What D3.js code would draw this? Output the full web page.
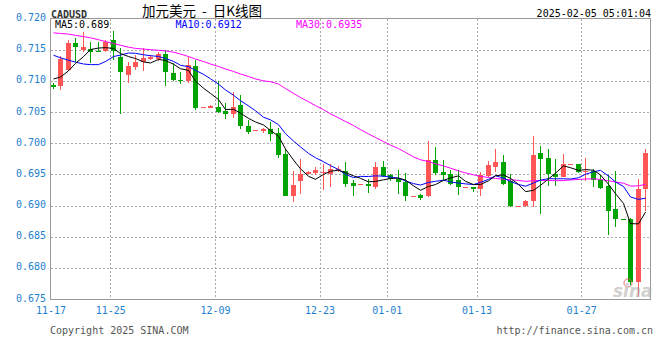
<!DOCTYPE html>
<html><head><meta charset="utf-8">
<script src="https://cdn.jsdelivr.net/npm/d3@7"></script>
<style>body{margin:0;background:#fff}svg{display:block}</style>
</head><body>
<script>
const dates = ["11-17","11-18","11-19","11-20","11-21","11-22","11-23","11-24","11-25","11-26","11-27","11-28","11-29","11-30",
"12-01","12-02","12-03","12-04","12-05","12-06","12-07","12-08","12-09","12-10","12-11","12-12","12-13","12-14","12-15","12-16",
"12-17","12-18","12-19","12-20","12-21","12-22","12-23","12-24","12-25","12-26","12-27","12-28","12-29","12-30","12-31",
"01-01","01-02","01-03","01-04","01-05","01-06","01-07","01-08","01-09","01-10","01-11","01-12","01-13","01-14","01-15",
"01-16","01-17","01-18","01-19","01-20","01-21","01-22","01-23","01-24","01-25","01-26","01-27","01-28","01-29","01-30",
"01-31","02-01","02-02","02-03","02-04"];
const openP = [0.7093,0.7092,0.7118,0.7160,0.7150,0.7151,0.7148,0.7148,0.7165,0.7138,0.7110,0.7122,0.7131,0.7135,
0.7135,0.7143,0.7112,0.7102,0.7100,0.7124,0.7057,0.7057,0.7058,0.7052,0.7047,0.7061,0.7027,0.7020,0.7019,0.7022,
0.7017,0.6982,0.6915,0.6939,0.6951,0.6952,0.6953,0.6951,0.6957,0.6955,0.6936,0.6933,0.6934,0.6930,0.6962,
0.6949,0.6943,0.6938,0.6915,0.6917,0.6915,0.6973,0.6954,0.6950,0.6941,0.6928,0.6930,0.6927,0.6948,0.6962,
0.6970,0.6939,0.6899,0.6899,0.6907,0.6985,0.6977,0.6950,0.6946,0.6965,0.6966,0.6954,0.6955,0.6941,0.6931,
0.6895,0.6879,0.6878,0.6778,0.6927];
const highP = [0.7097,0.7140,0.7166,0.7169,0.7178,0.7162,0.7162,0.7166,0.7180,0.7152,0.7130,0.7142,0.7152,0.7141,
0.7147,0.7150,0.7128,0.7114,0.7138,0.7133,0.7058,0.7062,0.7100,0.7064,0.7082,0.7077,0.7037,0.7021,0.7025,0.7034,
0.7025,0.6991,0.6955,0.6975,0.6955,0.6961,0.6967,0.6967,0.6964,0.6969,0.6941,0.6934,0.6943,0.6970,0.6972,
0.6950,0.6957,0.6952,0.6916,0.6918,0.7003,0.6994,0.6973,0.6957,0.6957,0.6930,0.6930,0.6953,0.6971,0.6990,
0.6981,0.6951,0.6900,0.6909,0.7011,0.6996,0.6990,0.6975,0.6983,0.6966,0.6966,0.6977,0.6959,0.6949,0.6949,
0.6955,0.6879,0.6880,0.6942,0.6990];
const lowP = [0.7087,0.7086,0.7116,0.7131,0.7147,0.7128,0.7146,0.7146,0.7133,0.7047,0.7097,0.7117,0.7116,0.7133,
0.7132,0.7091,0.7099,0.7095,0.7097,0.7054,0.7057,0.7056,0.7049,0.7038,0.7040,0.7023,0.7014,0.7020,0.7017,0.7003,
0.6976,0.6915,0.6906,0.6919,0.6950,0.6949,0.6925,0.6930,0.6954,0.6929,0.6915,0.6933,0.6920,0.6927,0.6946,
0.6940,0.6919,0.6908,0.6915,0.6909,0.6913,0.6949,0.6941,0.6933,0.6917,0.6928,0.6922,0.6915,0.6946,0.6954,
0.6933,0.6898,0.6899,0.6898,0.6897,0.6886,0.6931,0.6931,0.6946,0.6965,0.6952,0.6940,0.6929,0.6926,0.6853,
0.6866,0.6878,0.6772,0.6754,0.6891];
const closeP = [0.7090,0.7135,0.7160,0.7154,0.7155,0.7147,0.7147,0.7163,0.7148,0.7114,0.7123,0.7131,0.7136,0.7139,
0.7143,0.7114,0.7102,0.7099,0.7126,0.7056,0.7058,0.7060,0.7050,0.7046,0.7058,0.7027,0.7018,0.7021,0.7022,0.7014,
0.6981,0.6915,0.6933,0.6951,0.6954,0.6957,0.6954,0.6959,0.6959,0.6935,0.6931,0.6934,0.6931,0.6962,0.6948,
0.6942,0.6937,0.6915,0.6916,0.6912,0.6973,0.6952,0.6949,0.6935,0.6929,0.6929,0.6926,0.6949,0.6965,0.6970,
0.6935,0.6899,0.6900,0.6907,0.6981,0.6975,0.6950,0.6946,0.6966,0.6966,0.6954,0.6956,0.6941,0.6928,0.6891,
0.6879,0.6878,0.6778,0.6927,0.6985];
const ma5Lead = [0.7103,0.7106,0.7116,0.7128];
const ma10Lead = [0.7141,0.7137,0.7133,0.7130,0.7127,0.7126,0.7126,0.7131,0.7139];
const ma30Lead = [0.7177,0.7176,0.7175,0.7173,0.7171,0.7169,0.7166,0.7163,0.7160,0.7157,0.7154,0.7152,0.7151,0.7150,
0.7149,0.7148,0.7146,0.7143,0.7139,0.7135,0.7131,0.7127,0.7123,0.7119,0.7115,0.7111,0.7107,0.7103,0.7100];
const yTicks = [0.720,0.715,0.710,0.705,0.700,0.695,0.690,0.685,0.680,0.675];
const xTickLabels = ["11-17","11-25","12-09","12-23","01-01","01-13","01-27"];
const legendLabels = ["MA5:0.689","MA10:0.6912","MA30:0.6935"];
const symbol = "CADUSD";
const title = "加元美元 - 日K线图";
const stamp = "2025-02-05 05:01:04";
const copyright = "Copyright 2025 SINA.COM";
const site = "http://finance.sina.com.cn";

const W = 660, H = 360;
const L = 50.5, R = 650, T = 18.5, B = 299;
const mono = "'DejaVu Sans Mono', monospace";
const RED = "#ff5555", GREEN = "#00a400", BLUE_TXT = "#1f7fd0";

const svg = d3.select("body").append("svg").attr("width", W).attr("height", H);

const n = closeP.length;
const x = d3.scaleBand().domain(d3.range(n)).range([L - 0.5, R]).padding(0);
const y = d3.scaleLinear().domain([0.675, 0.720]).range([B, T]);
const parseD = s => { const [m, d] = s.split("-").map(Number); return new Date(m >= 10 ? 2024 : 2025, m - 1, d); };
const t = d3.scaleTime().domain([parseD(dates[0]), new Date(2025, 1, 5, 5, 1, 4)]).range([L, R]);
const tickDates = xTickLabels.map(parseD);

// grid
const grid = svg.append("g").attr("stroke", "#aaaaaa").attr("stroke-dasharray", "2,2").attr("shape-rendering", "crispEdges");
grid.selectAll(".hg").data(yTicks.filter(v => v < 0.7199 && v > 0.6751)).join("line")
  .attr("x1", L).attr("x2", R).attr("y1", d => Math.round(y(d)) + 0.5).attr("y2", d => Math.round(y(d)) + 0.5);
grid.selectAll(".vg").data(tickDates.slice(1)).join("line")
  .attr("x1", d => Math.round(t(d)) + 0.5).attr("x2", d => Math.round(t(d)) + 0.5).attr("y1", T).attr("y2", B);

// candles
const cx = i => Math.round(x(i) + x.bandwidth() / 2) - 0.5;
const bw = 5;
const candles = svg.append("g").attr("shape-rendering", "crispEdges");
const idx = d3.range(n);
const col = i => closeP[i] >= openP[i] ? RED : GREEN;
candles.selectAll(".wick").data(idx).join("line")
  .attr("x1", cx).attr("x2", cx)
  .attr("y1", i => y(highP[i])).attr("y2", i => y(lowP[i]))
  .attr("stroke", col).attr("stroke-width", 1);
candles.selectAll(".body").data(idx).join("rect")
  .attr("x", i => cx(i) - bw / 2)
  .attr("width", bw)
  .attr("y", i => y(Math.max(openP[i], closeP[i])))
  .attr("height", i => Math.max(1, Math.abs(y(openP[i]) - y(closeP[i]))))
  .attr("fill", col);

// moving averages
function movingAvg(win, lead) {
  return idx.map(i => i < win - 1 ? lead[i] : d3.mean(closeP.slice(i - win + 1, i + 1)));
}
const maSets = [[movingAvg(30, ma30Lead), "#ff00ff"], [movingAvg(10, ma10Lead), "#0000ff"], [movingAvg(5, ma5Lead), "#000000"]];
maSets.forEach(([vals, c]) => {
  svg.append("path")
    .attr("d", d3.line().x((v, i) => cx(i)).y(v => y(v))(vals))
    .attr("fill", "none").attr("stroke", c).attr("stroke-width", 1);
});

// frame
svg.append("rect").attr("x", L).attr("y", T).attr("width", R - L).attr("height", B - T)
  .attr("fill", "none").attr("stroke", "#999").attr("shape-rendering", "crispEdges");

// axes
const ya = svg.append("g").attr("transform", `translate(${L},0)`)
  .call(d3.axisLeft(y).tickValues(yTicks).tickFormat(d3.format(".3f")).tickSize(0).tickPadding(4.5));
ya.select(".domain").remove();
ya.selectAll("text").attr("fill", BLUE_TXT).attr("font-family", mono).attr("font-size", 10).attr("dy", "0.2em");

const xa = svg.append("g").attr("transform", `translate(0,${B})`)
  .call(d3.axisBottom(t).tickValues(tickDates).tickFormat(d3.timeFormat("%m-%d")).tickSize(0).tickPadding(8));
xa.select(".domain").remove();
xa.selectAll("text").attr("fill", BLUE_TXT).attr("font-family", mono).attr("font-size", 10);

// legend
const legendX = [55, 175.5, 296];
const legendC = ["#000000", "#0000ff", "#ff00ff"];
svg.selectAll(".lg").data(legendLabels).join("text")
  .attr("x", (d, i) => legendX[i]).attr("y", 28)
  .attr("font-family", mono).attr("font-size", 10).attr("fill", (d, i) => legendC[i]).text(d => d);

// header
svg.append("text").attr("x", 51).attr("y", 17.5).attr("font-family", mono).attr("font-size", 10)
  .attr("font-weight", "bold").attr("fill", "#333").text(symbol);
svg.append("text").attr("x", 202).attr("y", 15.5).attr("text-anchor", "middle")
  .attr("font-family", "'Noto Sans CJK SC', sans-serif").attr("font-size", 13.5).attr("fill", "#000")
  .attr("xml:space", "preserve").text("加元美元  -  日K线图");
svg.append("text").attr("x", 651).attr("y", 17).attr("text-anchor", "end").attr("font-family", mono)
  .attr("font-size", 10).attr("fill", "#000").text(stamp);

// footer
svg.append("text").attr("x", 50).attr("y", 334).attr("font-family", mono).attr("font-size", 10)
  .attr("fill", "#555").text(copyright);
svg.append("text").attr("x", 653).attr("y", 334).attr("text-anchor", "end").attr("font-family", mono)
  .attr("font-size", 10).attr("fill", "#555").text(site);

// watermark
const wm = svg.append("g").attr("opacity", 0.55);
wm.append("circle").attr("cx", 628).attr("cy", 283).attr("r", 4).attr("fill", "none").attr("stroke", "#e06060").attr("stroke-width", 1.5);
wm.append("text").attr("x", 613).attr("y", 297).attr("font-family", "'DejaVu Sans', sans-serif")
  .attr("font-size", 17).attr("font-weight", "bold").attr("font-style", "italic").attr("fill", "#aaa").text("sina");
</script>
</body></html>
